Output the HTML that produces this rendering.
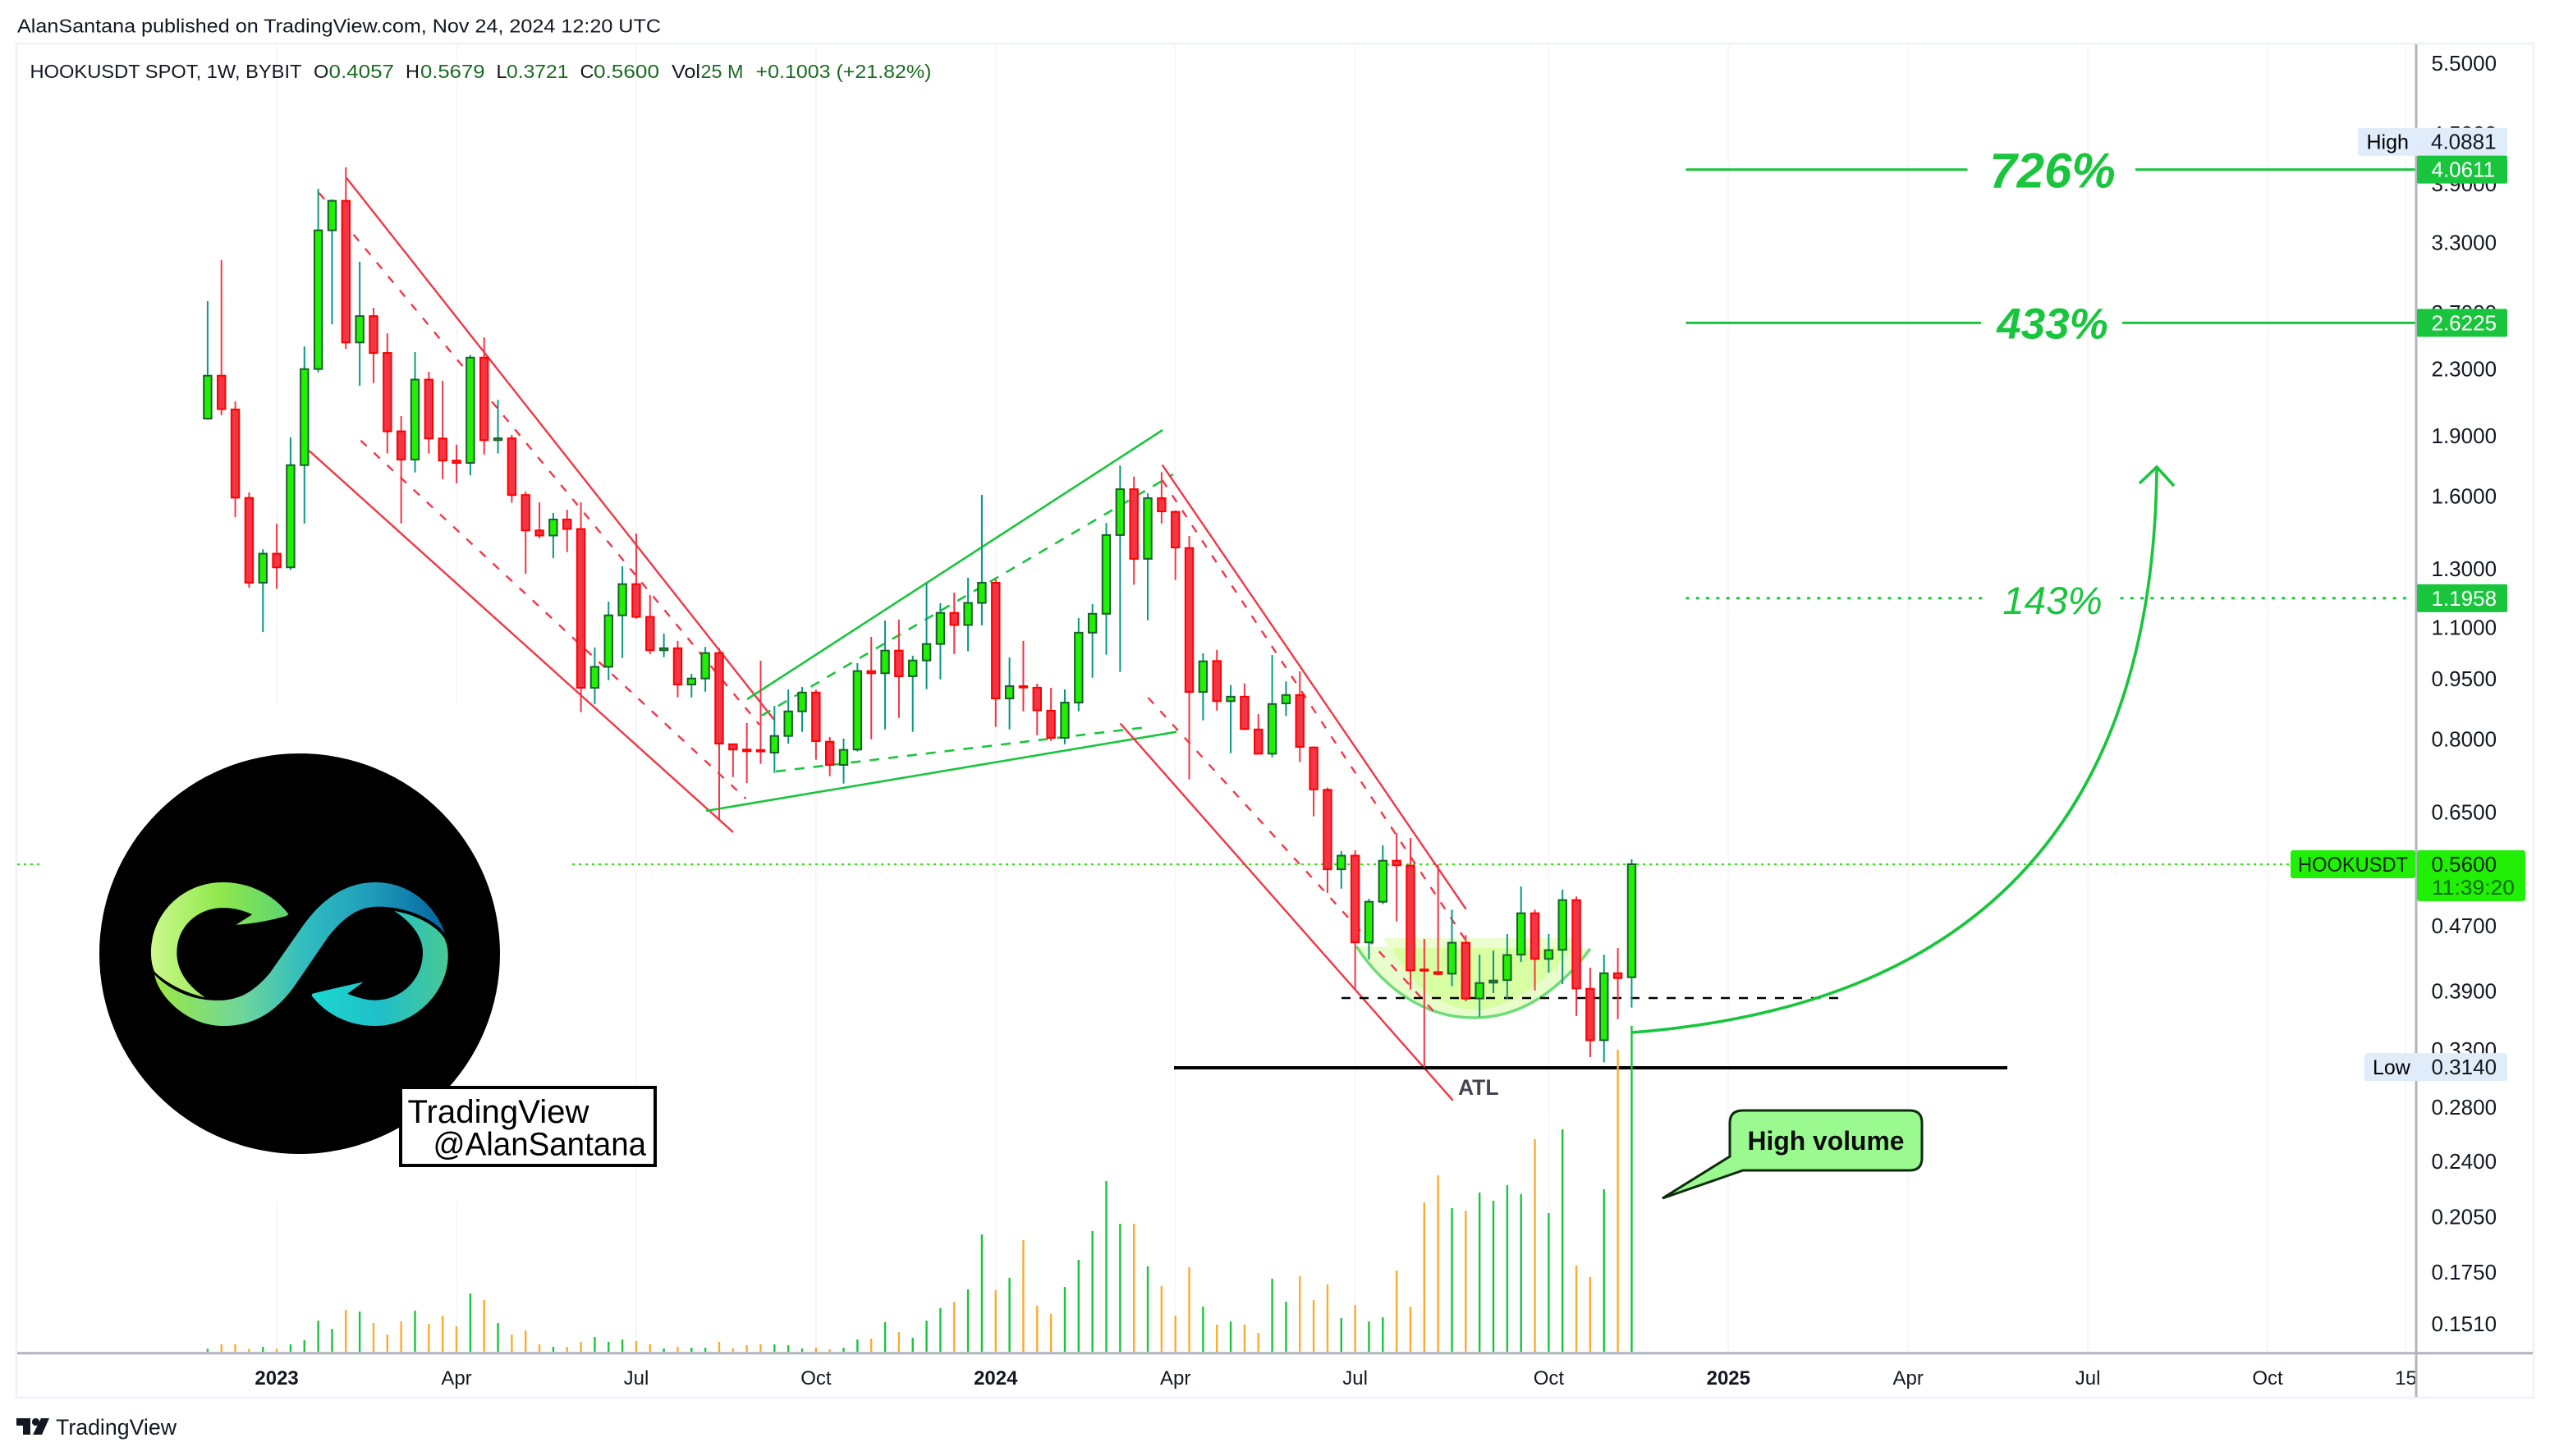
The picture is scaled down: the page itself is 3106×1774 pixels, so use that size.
<!DOCTYPE html>
<html lang="en">
<head>
<meta charset="utf-8">
<title>HOOKUSDT weekly chart</title>
<style>
html,body{margin:0;padding:0;background:#fff;width:3106px;height:1774px;overflow:hidden}
svg{display:block}
text{font-family:"Liberation Sans",sans-serif}
</style>
</head>
<body>
<svg id="chart" xmlns="http://www.w3.org/2000/svg" width="3106" height="1774" viewBox="0 0 3106 1774">
  <defs>
    <linearGradient id="hookLeft" gradientUnits="userSpaceOnUse" x1="235" y1="0" x2="703" y2="0">
      <stop offset="0" stop-color="#cdf98f"/><stop offset="0.5" stop-color="#8fe84c"/><stop offset="1" stop-color="#5cd472"/>
    </linearGradient>
    <linearGradient id="hookMid" gradientUnits="userSpaceOnUse" x1="247" y1="0" x2="1238" y2="0">
      <stop offset="0" stop-color="#9ce844"/><stop offset="0.3" stop-color="#6ed69a"/><stop offset="0.52" stop-color="#30bcc0"/><stop offset="0.75" stop-color="#1f9cba"/><stop offset="1" stop-color="#0464a0"/>
    </linearGradient>
    <linearGradient id="hookRight" gradientUnits="userSpaceOnUse" x1="785" y1="0" x2="1248" y2="0">
      <stop offset="0" stop-color="#1cd8d0"/><stop offset="0.5" stop-color="#1fbfc8"/><stop offset="1" stop-color="#48c996"/>
    </linearGradient>
  </defs>

  <rect x="0" y="0" width="3106" height="1774" fill="#ffffff"/>
  <rect x="20" y="53" width="3066" height="1650" fill="#ffffff" stroke="#f0f3fa" stroke-width="3"/>
  <g id="grid-layer"></g>
  <rect x="48" y="858" width="649" height="605" fill="#ffffff"/>
  <g id="price-line-layer"></g>

  <g>
    <path d="M1652,1153 C1690,1210 1740,1240 1795,1240 C1855,1240 1900,1205 1937,1156 Z" fill="#e9fccb"/>
    <path d="M1685,1143 L1918,1143 L1928,1156 L1692,1156 Z" fill="#ecfdd0"/>
    <path d="M1696,1155 C1715,1195 1750,1230 1796,1230 C1840,1230 1885,1195 1914,1155 Z" fill="#d9ffa3"/>
    <path d="M1652,1153 C1690,1210 1740,1240 1795,1240 C1855,1240 1900,1205 1937,1156" fill="none" stroke="#6fdc78" stroke-width="3.5"/>
  </g>

  <g stroke="#f23645" stroke-width="2.4" fill="none">
    <line x1="422" y1="216.7" x2="943" y2="877"/>
    <line x1="376.7" y1="549.3" x2="893" y2="1014"/>
    <line x1="388.7" y1="235" x2="925" y2="883" stroke-dasharray="10 12"/>
    <line x1="439.3" y1="536.7" x2="908.5" y2="973" stroke-dasharray="10 12"/>
  </g>
  <g stroke="#19c53d" stroke-width="2.6" fill="none">
    <line x1="910" y1="852" x2="1416" y2="524"/>
    <line x1="860" y1="988" x2="1433" y2="891.7"/>
    <line x1="928" y1="871.7" x2="1429" y2="578" stroke-dasharray="12 11"/>
    <line x1="945" y1="940" x2="1391" y2="886.7" stroke-dasharray="12 11"/>
  </g>
  <g stroke="#f23645" stroke-width="2.4" fill="none">
    <line x1="1415.7" y1="566.4" x2="1785.6" y2="1107.7"/>
    <line x1="1364.7" y1="881.6" x2="1769.6" y2="1340.7"/>
    <line x1="1415.7" y1="585" x2="1786" y2="1146.7" stroke-dasharray="10 12"/>
    <line x1="1398.5" y1="850" x2="1745.7" y2="1231.7" stroke-dasharray="10 12"/>
  </g>
  <line x1="1634" y1="1216" x2="2239" y2="1216" stroke="#000000" stroke-width="2.4" stroke-dasharray="11 11"/>
  <line x1="1430" y1="1301" x2="2445" y2="1301" stroke="#000000" stroke-width="4"/>

  <g id="volume-layer"></g>
  <g id="candle-layer"></g>
  <g id="level-layer"></g>

  <text x="1776" y="1334" font-size="26.5" font-weight="700" fill="#434651">ATL</text>
  <path d="M1987,1258 Q2620,1210 2627,572" fill="none" stroke="#19c53d" stroke-width="3.6"/>
  <path d="M2606,589 L2627,569 L2648,592" fill="none" stroke="#19c53d" stroke-width="3.6"/>

  <g>
    <path d="M2123,1353 H2326 Q2341,1353 2341,1368 V1411 Q2341,1426 2326,1426 H2123 L2025,1460 L2107,1409 V1368 Q2107,1353 2123,1353 Z" fill="#9bfa8f" stroke="#0c2c0c" stroke-width="3"/>
    <text x="2128.5" y="1401" font-size="32" font-weight="700" fill="#0d0d0d" textLength="191" lengthAdjust="spacingAndGlyphs">High volume</text>
  </g>

  <g>
    <circle cx="365" cy="1162" r="244" fill="#000000"/>
    <g transform="translate(100 900) scale(0.35714)">
      <path fill="url(#hookLeft)" d="M703,597 C650,530 570,490 480,490 C340,490 235,600 235,730 C235,755 240,780 247,795 C285,835 360,870 420,883 C370,850 323,800 323,730 C323,640 395,577 480,577 C520,577 555,587 580,600 L525,635 C600,630 660,615 695,605 Q705,600 703,597 Z"/>
      <path fill="url(#hookMid)" d="M247,805 C260,880 360,980 480,980 C590,980 660,930 720,850 L840,675 C900,600 950,573 1010,573 C1100,573 1195,610 1238,665 C1200,560 1110,490 1000,490 C880,490 800,570 745,650 L640,800 C580,870 530,893 460,893 C380,893 300,860 247,805 Z"/>
      <path fill="url(#hookRight)" d="M785,870 C850,855 910,840 960,830 L905,870 C945,885 970,892 1000,892 C1090,892 1162,820 1162,730 C1162,670 1115,620 1065,588 C1140,600 1210,640 1235,680 C1245,700 1248,720 1248,740 C1248,870 1130,980 1000,980 C910,980 835,940 790,885 Q780,875 785,870 Z"/>
    </g>
  </g>

  <g>
    <rect x="488" y="1325" width="310" height="95" fill="#ffffff" stroke="#000000" stroke-width="4"/>
    <text x="496.5" y="1368" font-size="40" fill="#000000" textLength="221" lengthAdjust="spacingAndGlyphs">TradingView</text>
    <text x="527.5" y="1407.5" font-size="40" fill="#000000" textLength="259.5" lengthAdjust="spacingAndGlyphs">@AlanSantana</text>
  </g>

  <g id="time-axis-layer"></g>
  <rect x="2944" y="55" width="140" height="1646" fill="#ffffff"/>
  <g id="price-axis-layer"></g>

  <line x1="21" y1="1648.7" x2="3085" y2="1648.7" stroke="#b2b5be" stroke-width="3"/>
  <line x1="2943" y1="54" x2="2943" y2="1702" stroke="#b2b5be" stroke-width="3"/>

  <g id="tag-layer"></g>

  <text x="21" y="39.5" font-size="23" fill="#131722" textLength="784" lengthAdjust="spacingAndGlyphs">AlanSantana published on TradingView.com, Nov 24, 2024 12:20 UTC</text>
  <g font-size="23.5">
    <text x="36.5" y="95" fill="#131722" textLength="331" lengthAdjust="spacingAndGlyphs">HOOKUSDT SPOT, 1W, BYBIT</text>
    <text x="382" y="95" fill="#131722">O</text>
    <text x="400.5" y="95" fill="#1b6b22" textLength="79.5" lengthAdjust="spacingAndGlyphs">0.4057</text>
    <text x="494" y="95" fill="#131722">H</text>
    <text x="512" y="95" fill="#1b6b22" textLength="78.5" lengthAdjust="spacingAndGlyphs">0.5679</text>
    <text x="604.5" y="95" fill="#131722">L</text>
    <text x="617" y="95" fill="#1b6b22" textLength="75.5" lengthAdjust="spacingAndGlyphs">0.3721</text>
    <text x="706.5" y="95" fill="#131722">C</text>
    <text x="723" y="95" fill="#1b6b22" textLength="80" lengthAdjust="spacingAndGlyphs">0.5600</text>
    <text x="818" y="95" fill="#131722" textLength="35" lengthAdjust="spacingAndGlyphs">Vol</text>
    <text x="853.5" y="95" fill="#1b6b22" textLength="52" lengthAdjust="spacingAndGlyphs">25 M</text>
    <text x="920.5" y="95" fill="#1b6b22" textLength="214" lengthAdjust="spacingAndGlyphs">+0.1003 (+21.82%)</text>
  </g>

  <g>
    <path d="M20,1728 H37 V1748 H28 V1737 H20 Z" fill="#131722"/>
    <circle cx="43.5" cy="1732.5" r="4.6" fill="#131722"/>
    <path d="M50,1728 H60 L51,1748 H40 Z" fill="#131722"/>
    <text x="68" y="1748" font-size="26.5" fill="#131722" textLength="147" lengthAdjust="spacingAndGlyphs">TradingView</text>
  </g>
</svg>

<script>
const open = [1.996,2.256,2.049,1.592,1.250,1.358,1.306,1.748,2.299,3.415,3.715,2.480,2.674,2.407,1.925,1.776,2.231,1.886,1.771,1.759,2.375,1.877,1.887,1.605,1.451,1.430,1.497,1.457,.9263,.9833,1.139,1.245,1.134,1.031,1.037,.9350,.9511,1.0227,.7886,.7767,.7757,.7699,.8074,.8661,.9139,.7943,.7434,.7767,.9715,.9655,1.030,.9573,1.0014,1.0495,1.147,1.108,1.180,1.250,.8985,.9306,.9265,.8678,.8031,.8880,1.084,1.144,1.432,1.632,1.338,1.591,1.530,1.380,.9153,.9999,.8916,.9031,.8225,.7675,.8860,.9074,.7813,.6925,.5520,.5739,.4481,.5032,.5657,.5578,.4148,.4117,.4098,.4477,.3818,.3995,.4024,.4327,.4870,.4275,.4387,.5056,.3926,.3390,.4104,.4057];
const high = [2.790,3.137,2.096,1.617,1.375,1.479,1.892,2.452,3.845,3.730,4.0881,3.122,2.738,2.546,2.010,2.413,2.281,2.223,1.853,2.394,2.516,2.106,1.905,1.621,1.572,1.525,1.539,1.572,1.039,1.184,1.310,1.438,1.207,1.081,1.059,.9639,1.041,1.038,.7899,.8377,1.0007,.8797,.9219,.9284,.9212,.8050,.8012,.9938,1.071,1.122,1.125,1.015,1.250,1.179,1.215,1.268,1.606,1.265,1.010,1.059,.9373,.9263,.9219,1.130,1.176,1.482,1.746,1.692,1.613,1.713,1.536,1.428,1.022,1.032,.9335,.9381,.8593,1.017,.9433,.9709,.7838,.6970,.5814,.5828,.5076,.5910,.6120,.6035,.4526,.5596,.4920,.4575,.4327,.4377,.4590,.5257,.4920,.4590,.5209,.5107,.4170,.4327,.4411,.5679];
const low = [1.990,2.016,1.507,1.232,1.086,1.228,1.296,1.480,2.277,2.612,2.435,2.192,2.209,1.807,1.480,1.712,1.807,1.680,1.660,1.698,1.802,1.807,1.570,1.282,1.419,1.341,1.364,.8641,.8845,.9466,1.0085,1.128,1.020,1.011,.9013,.9013,.9161,.6355,.7182,.7060,.7456,.7267,.7899,.8169,.7544,.7199,.7049,.7725,.7998,.8227,.8501,.8169,.9226,.9488,1.020,1.028,1.107,.8285,.8227,.8661,.8093,.7961,.7886,.8661,.9533,1.018,.9692,1.243,1.123,1.480,1.260,.7132,.8441,.8680,.7688,.8210,.7660,.7597,.8543,.7493,.6419,.5160,.5224,.3908,.4269,.4997,.4757,.3917,.3141,.4081,.3954,.3789,.3626,.3878,.3809,.4238,.3908,.4112,.3979,.3633,.3231,.3183,.3600,.3721];
const close = [2.256,2.051,1.593,1.250,1.358,1.306,1.748,2.299,3.415,3.715,2.480,2.674,2.407,1.925,1.776,2.231,1.886,1.771,1.759,2.375,1.877,1.887,1.605,1.451,1.430,1.497,1.457,.9263,.9833,1.139,1.245,1.134,1.031,1.037,.9350,.9511,1.0227,.7899,.7767,.7730,.7725,.8074,.8661,.9139,.7956,.7434,.7760,.9715,.9655,1.030,.9573,1.0014,1.0495,1.147,1.108,1.180,1.250,.8985,.9306,.9270,.8686,.8031,.8880,1.084,1.144,1.432,1.632,1.338,1.591,1.532,1.382,.9153,.9990,.8916,.9031,.8235,.7675,.8844,.9074,.7826,.6932,.5520,.5739,.4481,.5032,.5657,.5583,.4138,.4134,.4095,.4477,.3818,.3991,.4019,.4322,.4870,.4275,.4383,.5056,.3930,.3390,.4104,.4047,.5600];
const volumeMillions = [.23,.57,.57,.23,.38,.23,.57,.88,2.39,1.76,3.21,3.09,2.2,1.32,2.33,3.15,2.14,2.77,1.95,4.47,3.97,2.2,1.32,1.64,.57,.38,.38,.76,1.13,.76,.94,.82,.57,.25,.38,.31,.31,.76,.25,.5,.57,.57,.5,.25,.31,.19,.31,.94,1.01,2.27,1.51,1.07,2.39,3.34,3.84,4.79,9.0,4.72,5.67,8.56,3.53,2.9,4.97,7.05,9.26,13.1,9.82,9.82,6.55,5.04,2.77,6.49,3.46,2.08,2.33,2.08,1.45,5.6,3.84,5.79,3.97,5.16,2.58,3.59,2.33,2.64,6.23,3.46,11.46,13.54,11.02,10.83,12.22,11.59,12.78,12.09,16.31,10.64,17.07,6.61,5.73,12.47,23.17,25.0];
const priceTicks = [5.5,4.5,3.9,3.3,2.7,2.3,1.9,1.6,1.3,1.1,0.95,0.8,0.65,0.47,0.39,0.33,0.28,0.24,0.205,0.175,0.151];
const timeTickBars = [5,18,31,44,57,70,83,97,110,123,136,149,159];
const timeTickLabels = ['2023','Apr','Jul','Oct','2024','Apr','Jul','Oct','2025','Apr','Jul','Oct','15'];
const lastPrice = 0.56;
const allTimeLow = 0.314;
const periodHigh = 4.0881;
const targetPrices = [4.0611,2.6225,1.1958];
const targetTexts = ['726%','433%','143%'];

const NS = 'http://www.w3.org/2000/svg';
const xScale = function (bar) { return 252.9 + 16.84 * bar; };
const yScale = function (price) { return 805.3 - 427.2 * Math.log(price); };
const volumeScale = function (millions) { return millions * 15.88; };
const VOLUME_BASE = 1647;
const PLOT_RIGHT = 2943;

function make(parentId, tag, attrs, content) {
  const el = document.createElementNS(NS, tag);
  Object.keys(attrs).forEach(function (key) { el.setAttribute(key, attrs[key]); });
  if (content !== undefined) el.textContent = content;
  document.getElementById(parentId).appendChild(el);
  return el;
}

/* vertical gridlines and time axis labels */
timeTickBars.forEach(function (bar, i) {
  const gx = xScale(bar);
  const grid = make('grid-layer', 'line', {x1: gx, y1: 55, x2: gx, y2: 1647, stroke: '#f8f5fc', 'stroke-width': 2});
  
  
  const isYear = /^\d{4}$/.test(timeTickLabels[i]);
  const label = make('time-axis-layer', 'text', {x: gx, y: 1687, 'text-anchor': 'middle', 'font-size': 24, 'font-weight': isYear ? 700 : 400, fill: '#131722'}, timeTickLabels[i]);
  
  
});

/* last price dotted line */
const lastY = yScale(lastPrice);
const priceLineLeft = make('price-line-layer', 'line', {x1: 21, y1: lastY, x2: 48, y2: lastY, stroke: '#22ee00', 'stroke-width': 2, 'stroke-dasharray': '3 5'});


const priceLineRight = make('price-line-layer', 'line', {x1: 697, y1: lastY, x2: PLOT_RIGHT, y2: lastY, stroke: '#22ee00', 'stroke-width': 2, 'stroke-dasharray': '3 5'});



/* volume bars */
volumeMillions.forEach(function (v, i) {
  const up = close[i] >= open[i];
  const h = volumeScale(v);
  const bar = make('volume-layer', 'rect', {x: xScale(i) - 1.2, y: VOLUME_BASE - h, width: 2.4, height: h, fill: up ? '#19c53d' : '#fbab31'});
  
  
});

/* candles */
open.forEach(function (o, i) {
  const c = close[i];
  const up = c >= o;
  const cx = xScale(i);
  const top = yScale(Math.max(o, c));
  const bottom = yScale(Math.min(o, c));
  const wick = make('candle-layer', 'rect', {x: cx - 1, y: yScale(high[i]), width: 2, height: yScale(low[i]) - yScale(high[i]), fill: up ? '#089981' : '#f23645'});
  
  
  const body = make('candle-layer', 'rect', {x: cx - 4.7, y: top, width: 9.4, height: Math.max(bottom - top, 0.6), fill: up ? '#21ef05' : '#f23645', stroke: up ? '#1b5e2a' : '#ff0000', 'stroke-width': 2});
  
  
});

/* target levels */
function drawLevel(index, gapStart, gapEnd, lineEnd, dashed, fontSize, bold, baselineOffset) {
  const ly = yScale(targetPrices[index]);
  const dash = dashed ? {'stroke-dasharray': '4 8.3'} : {};
  const leftAttrs = Object.assign({x1: 2053.5, y1: ly, x2: gapStart, y2: ly, stroke: '#19c53d', 'stroke-width': 3}, dash);
  const rightAttrs = Object.assign({x1: gapEnd, y1: ly, x2: lineEnd, y2: ly, stroke: '#19c53d', 'stroke-width': 3}, dash);
  const left = make('level-layer', 'line', leftAttrs);
  
  
  const right = make('level-layer', 'line', rightAttrs);
  
  
  const label = make('level-layer', 'text', {x: 2500, y: ly + baselineOffset, 'text-anchor': 'middle', 'font-size': fontSize, 'font-weight': bold ? 700 : 400, 'font-style': 'italic', fill: '#19c53d'}, targetTexts[index]);
  
  
}
drawLevel(0, 2396.5, 2601, 2942, false, 60, true, 22);
drawLevel(1, 2413, 2585, 2942, false, 53, true, 19);
drawLevel(2, 2417, 2582.5, 2935, true, 47.5, false, 19);

/* price axis labels */
priceTicks.forEach(function (p) {
  const text = p.toFixed(4);
  const tick = make('price-axis-layer', 'text', {x: 2961.5, y: yScale(p) + 9, 'font-size': 26, fill: '#131722'}, text);
  
  
});

/* price tags */
const highTagY = 172.7;
const highBg = make('tag-layer', 'rect', {x: 2872, y: highTagY - 17, width: 182, height: 34, rx: 3, fill: '#e1ecfb'});


const highKey = make('tag-layer', 'text', {x: 2882.5, y: highTagY + 9, 'font-size': 25, fill: '#000000'}, 'High');


const highVal = make('tag-layer', 'text', {x: 2961, y: highTagY + 9, 'font-size': 26, fill: '#131722'}, periodHigh.toFixed(4));



targetPrices.forEach(function (p) {
  const ty = yScale(p);
  const bg = make('tag-layer', 'rect', {x: 2944, y: ty - 17, width: 110, height: 34, rx: 2, fill: '#19c53d'});
  
  
  const val = make('tag-layer', 'text', {x: 2961.5, y: ty + 9, 'font-size': 26, fill: '#ffffff'}, p.toFixed(4));
  
  
});

const symbolBg = make('tag-layer', 'rect', {x: 2790, y: lastY - 17, width: 152, height: 34, rx: 3, fill: '#21ef05'});


const symbolText = make('tag-layer', 'text', {x: 2799, y: lastY + 9, 'font-size': 25, fill: '#0b2a0b', textLength: 134, lengthAdjust: 'spacingAndGlyphs'}, 'HOOKUSDT');


const lastBg = make('tag-layer', 'rect', {x: 2944, y: lastY - 17, width: 132, height: 62, rx: 3, fill: '#21ef05'});


const lastVal = make('tag-layer', 'text', {x: 2961.5, y: lastY + 9, 'font-size': 26, fill: '#0b2a0b'}, lastPrice.toFixed(4));


const countdown = make('tag-layer', 'text', {x: 2962, y: lastY + 37, 'font-size': 25, fill: '#0d6a10', textLength: 101, lengthAdjust: 'spacingAndGlyphs'}, '11:39:20');



const lowY = yScale(allTimeLow);
const lowBg = make('tag-layer', 'rect', {x: 2880, y: lowY - 17, width: 174, height: 34, rx: 3, fill: '#e1ecfb'});


const lowKey = make('tag-layer', 'text', {x: 2890, y: lowY + 9, 'font-size': 25, fill: '#000000'}, 'Low');


const lowVal = make('tag-layer', 'text', {x: 2961.5, y: lowY + 9, 'font-size': 26, fill: '#131722'}, allTimeLow.toFixed(4));



/* redraw the axis lines above the tags' left edge so the tag sits flush */
</script>
</body>
</html>
